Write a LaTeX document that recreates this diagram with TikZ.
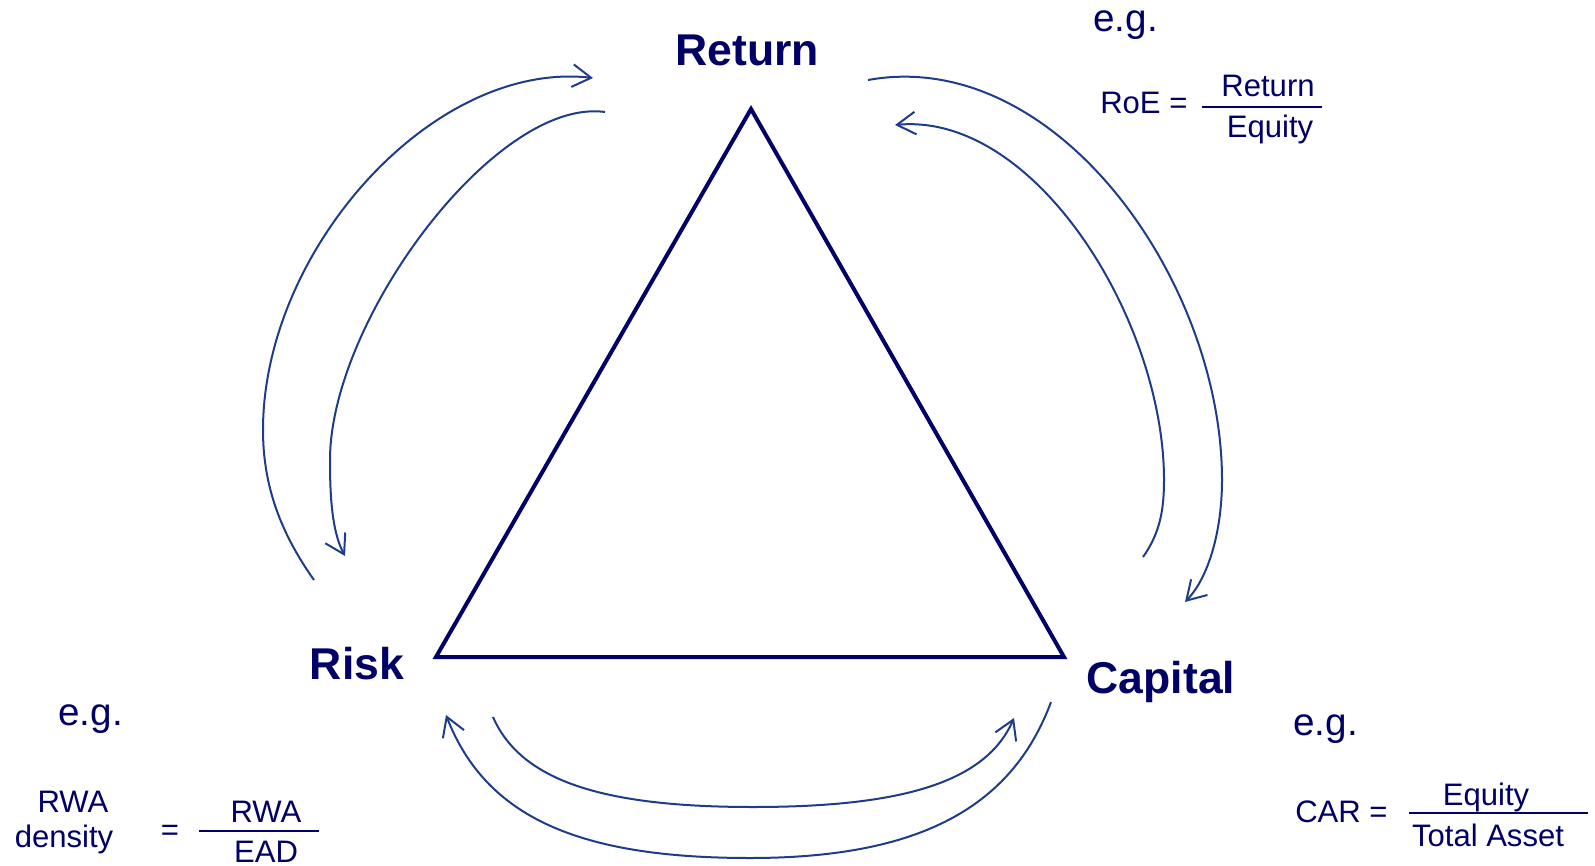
\documentclass[tikz,border=0pt]{standalone}
\usepackage{fontspec}
\setmainfont{Liberation Sans}
\usepackage{tikz}
\usetikzlibrary{arrows.meta,calc}
\definecolor{navy}{HTML}{000066}
\definecolor{cyclecol}{HTML}{1F3C88}

\begin{document}
\begin{tikzpicture}[
  x=0.75pt,y=-0.75pt,
  corner/.style={font=\fontsize{33.4}{40}\selectfont\bfseries,text=navy,inner sep=0pt,anchor=base},
  eg/.style={font=\fontsize{29}{35}\selectfont,text=navy,inner sep=0pt,anchor=base west},
  frm/.style={font=\fontsize{23.3}{28}\selectfont,text=navy,inner sep=0pt,anchor=base},
  bar/.style={draw=navy,line width=1.6pt},
  cyc/.style={draw=cyclecol,line width=1.5pt,-{Straight Barb[length=14pt,width=17pt]}}
]
\useasboundingbox (0,0) rectangle (1595,866);
\coordinate (top) at (751,109);
\coordinate (lft) at (436,657);
\coordinate (rgt) at (1064,657);
\draw[draw=navy,line width=3pt] (top) -- (rgt) -- (lft) -- cycle;
\node[corner] (return) at (747,66) {Return};
\node[corner] (risk) at (357,679) {Risk};
\node[corner] (capital) at (1161,693) {Capital};

\coordinate (l1s) at (314,580); \coordinate (l1m) at (263,430); \coordinate (l1e) at (593,78);
\draw[cyc] (l1s) .. controls (280,532) and (263,485) .. (l1m) .. controls (263,250) and (433,60) .. (l1e);
\coordinate (l2s) at (605,112); \coordinate (l2m) at (330,460); \coordinate (l2e) at (345,556);
\draw[cyc] (l2s) .. controls (496,97) and (330,320) .. (l2m) .. controls (330,490) and (331,530) .. (l2e);
\coordinate (r1s) at (868,80); \coordinate (r1m) at (1222,480); \coordinate (r1e) at (1185,602);
\draw[cyc] (r1s) .. controls (1055,46) and (1222,280) .. (r1m) .. controls (1222,530) and (1209,577) .. (r1e);
\coordinate (r2s) at (1143,557); \coordinate (r2m) at (1164,480); \coordinate (r2e) at (895,125);
\draw[cyc] (r2s) .. controls (1160,533) and (1164,510) .. (r2m) .. controls (1164,320) and (1035,112) .. (r2e);
\coordinate (b1s) at (1051,702); \coordinate (b1m) at (750,858); \coordinate (b1e) at (446,715);
\draw[cyc] (b1s) .. controls (1012,807) and (920,858) .. (b1m) .. controls (580,858) and (486,818) .. (b1e);
\coordinate (b2s) at (493,717); \coordinate (b2m) at (753,807); \coordinate (b2e) at (1014,718);
\draw[cyc] (b2s) .. controls (521,781) and (603,807) .. (b2m) .. controls (903,807) and (986,782) .. (b2e);

\node[eg] (eg1) at (1093,32) {e.g.};
\node[frm,anchor=base west] (roe) at (1100,114) {RoE =};
\coordinate (roeA) at (1202,107); \coordinate (roeB) at (1322,107);
\draw[bar] (roeA) -- (roeB);
\node[frm] (roeN) at (1268,97) {Return};
\node[frm] (roeD) at (1270,138) {Equity};

\node[eg] (eg2) at (58,725) {e.g.};
\node[frm] (rwa) at (73,812) {RWA};
\node[frm] (dens) at (64,847) {density};
\node[frm] (eqs) at (170,840) {=};
\coordinate (rwaA) at (199,831); \coordinate (rwaB) at (319,831);
\draw[bar,line width=2.2pt] (rwaA) -- (rwaB);
\node[frm] (rwaN) at (266,822) {RWA};
\node[frm] (ead) at (266,862) {EAD};

\node[eg] (eg3) at (1293,735) {e.g.};
\node[frm,anchor=base west] (car) at (1295,822) {CAR =};
\coordinate (carA) at (1409,813); \coordinate (carB) at (1588,813);
\draw[bar,line width=2.2pt] (carA) -- (carB);
\node[frm] (carN) at (1486,805) {Equity};
\node[frm] (carD) at (1488,846) {Total Asset};
\end{tikzpicture}
\end{document}
